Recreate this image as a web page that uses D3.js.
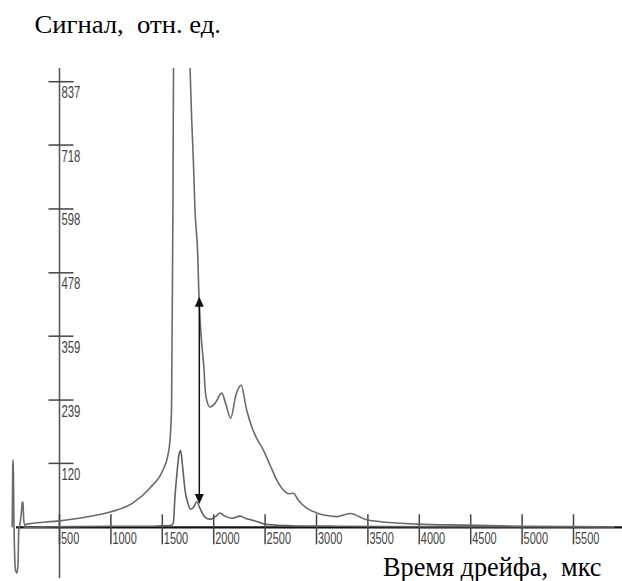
<!DOCTYPE html>
<html><head><meta charset="utf-8">
<script src="https://cdn.jsdelivr.net/npm/d3@7"></script>
<style>html,body{margin:0;padding:0;background:#fff;}svg{display:block;}text{white-space:pre;}</style>
</head><body>
<svg id="chart" width="622" height="581"></svg>
<script>
// ---- data ----
const xTicks = [500,1000,1500,2000,2500,3000,3500,4000,4500,5000,5500];
const yTicks = [120,239,359,478,598,718,837];
// large signal (time µs, signal)
const bigTime = [40,45,48,52,56,62,72,86,96,104,115,130,138,144,152,162,184,500,748,1001,1215,1380,1507,1555,1575,1590,1594,1604,1609,1690,1770,1786,1802,1818,1844,1857,1883,1906,1915,1932,1964,2013,2078,2120,2165,2217,2266,2321,2370,2418,2483,2548,2613,2677,2735,2774,2823,2905,3002,3099,3197,3326,3488,3647,3975,4461,5000,5900];
const bigSignal = [0,115,127,100,20,-40,-80,-86,-70,-5,5,30,48,46,15,4,6,12,19,29,46,74,108,136,164,226,333,615,862,1300,862,765,690,596,515,432,346,296,264,239,226,233,252,230,205,249,267,220,189,167,145,117,89,70,63,64,51,36,27,22,20,26,14,10,6,4,2,1];
// small signal
const smallTime = [150,500,1000,1400,1500,1560,1590,1607,1623,1643,1662,1679,1696,1721,1745,1776,1805,1835,1870,1915,1964,2030,2061,2100,2178,2256,2320,2402,2499,2600,2750,3200,4500,5900];
const smallSignal = [0,1,2,2,3,3,4,8,57,102,136,144,117,70,48,34,38,48,34,19,15,22,27,22,17,21,16,12,6,4,3,2,1,1];
// arrow annotation (time, from, to)
const arrowTime = [1860];
const arrowFrom = [44];
const arrowTo = [433];
const yTitle = "Сигнал,  отн. ед.";
const xTitle = "Время дрейфа,  мкс";

// ---- scales ----
const svg = d3.select("#chart");
const x = d3.scaleLinear().domain([500,5500]).range([59.5,573.5]);
const y = d3.scaleLinear().domain([0,837]).range([527.3,81.7]);
const axisX = x(500), axisY = y(0);

svg.append("defs").append("clipPath").attr("id","clip")
  .append("rect").attr("x",0).attr("y",68).attr("width",622).attr("height",513);

// y axis line
svg.append("line").attr("x1",axisX).attr("x2",axisX).attr("y1",68).attr("y2",578)
  .attr("stroke","#5a5a5a").attr("stroke-width",1.6);

// y ticks
const yg = svg.append("g");
yTicks.forEach(v=>{
  yg.append("line").attr("x1",axisX-11).attr("x2",axisX+14).attr("y1",y(v)).attr("y2",y(v))
    .attr("stroke","#444").attr("stroke-width",1.5);
  const s=String(v);
  yg.append("text").attr("x",axisX+2).attr("y",y(v)+16.5).text(s)
    .attr("font-family","Liberation Sans, Arial, sans-serif").attr("font-size",16)
    .attr("fill","#444").attr("textLength",6.3*s.length).attr("lengthAdjust","spacingAndGlyphs");
});

// x axis line
svg.append("line").attr("x1",16).attr("x2",622).attr("y1",axisY).attr("y2",axisY)
  .attr("stroke","#111").attr("stroke-width",2.2);

// x ticks
const xg = svg.append("g");
xTicks.forEach(v=>{
  xg.append("line").attr("x1",x(v)).attr("x2",x(v)).attr("y1",axisY-13).attr("y2",axisY+17)
    .attr("stroke","#444").attr("stroke-width",1.5);
  const s=String(v);
  xg.append("text").attr("x",x(v)+1.5).attr("y",axisY+17).text(s)
    .attr("font-family","Liberation Sans, Arial, sans-serif").attr("font-size",16)
    .attr("fill","#444").attr("textLength",6.1*s.length).attr("lengthAdjust","spacingAndGlyphs");
});

// curves
const line = d3.line().x(d=>x(d[0])).y(d=>y(d[1])).curve(d3.curveMonotoneX);
const cg = svg.append("g").attr("clip-path","url(#clip)");
cg.append("path").attr("d",line(smallTime.map((t,i)=>[t,smallSignal[i]])))
  .attr("fill","none").attr("stroke","#606060").attr("stroke-width",1.6);
cg.append("path").attr("d",line(bigTime.map((t,i)=>[t,bigSignal[i]])))
  .attr("fill","none").attr("stroke","#6a6a6a").attr("stroke-width",1.6);

// arrow
arrowTime.forEach((t,i)=>{
  const ax=x(t), y1=y(arrowFrom[i]), y2=y(arrowTo[i]);
  svg.append("line").attr("x1",ax).attr("x2",ax).attr("y1",y1-8).attr("y2",y2+8)
    .attr("stroke","#111").attr("stroke-width",1.5);
  svg.append("path").attr("d",`M${ax},${y2} L${ax-4.5},${y2+10} L${ax+4.5},${y2+10} Z`).attr("fill","#111");
  svg.append("path").attr("d",`M${ax},${y1} L${ax-4.5},${y1-10} L${ax+4.5},${y1-10} Z`).attr("fill","#111");
});

// titles
svg.append("text").attr("x",34.5).attr("y",33).text(yTitle)
  .attr("font-family","Liberation Serif, Times New Roman, serif").attr("font-size",25)
  .attr("fill","#000").attr("textLength",186.5).attr("lengthAdjust","spacingAndGlyphs");
svg.append("text").attr("x",383).attr("y",576).text(xTitle)
  .attr("font-family","Liberation Serif, Times New Roman, serif").attr("font-size",28)
  .attr("fill","#000").attr("textLength",218.5).attr("lengthAdjust","spacingAndGlyphs");
</script>
</body></html>
